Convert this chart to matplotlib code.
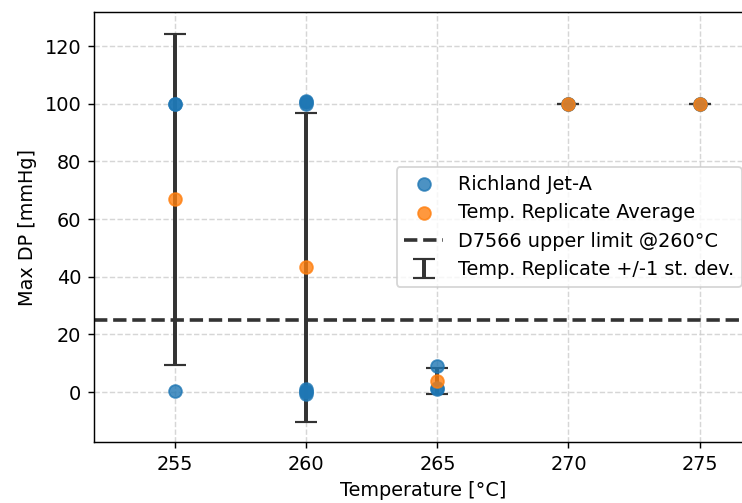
import numpy as np
import matplotlib
matplotlib.use('Agg')
import matplotlib.pyplot as plt

# measured max DP for each run, grouped by test temperature
temps = [255, 260, 265, 270, 275]
runs = {
    255: [100.0, 100.0, 0.5],
    260: [100.0, 100.5, 101.0, 0.0, -0.5, 0.5, 1.0],
    265: [9.0, 1.5, 1.2],
    270: [100.0, 100.0],
    275: [100.0, 100.0],
}
limit_dp = 25.0

run_x = [t for t in temps for _ in runs[t]]
run_y = [v for t in temps for v in runs[t]]
avg = [np.mean(runs[t]) for t in temps]
std = [np.std(runs[t], ddof=1) for t in temps]

plt.rcParams['font.size'] = 10.7

dpi = 130
fig = plt.figure(figsize=(742 / dpi, 503 / dpi), dpi=dpi)
ax = fig.add_axes([94 / 742, 61 / 503, 658 / 742, 430 / 503])

ax.scatter(run_x, run_y, s=50, color='tab:blue', alpha=0.8, label='Richland Jet-A', zorder=3)
ax.scatter(temps, avg, s=50, color='tab:orange', alpha=0.8, label='Temp. Replicate Average', zorder=3)
ax.axhline(limit_dp, color='k', ls='--', lw=2, alpha=0.8, label='D7566 upper limit @260°C')
ax.errorbar(temps, avg, yerr=std, fmt='none', ecolor='#333333', elinewidth=2.2,
            capsize=6, capthick=1.2, label='Temp. Replicate +/-1 st. dev.', zorder=2)

ax.set_xlim(251.9, 277.0)
ax.set_ylim(-17.3, 131.8)
ax.set_xticks(temps)
ax.set_xlabel('Temperature [°C]')
ax.set_ylabel('Max DP [mmHg]')
ax.grid(True, ls='--', color='#cccccc', alpha=0.8)
ax.set_axisbelow(True)
ax.legend(loc='center right')

fig.savefig('out.png', dpi=dpi)
